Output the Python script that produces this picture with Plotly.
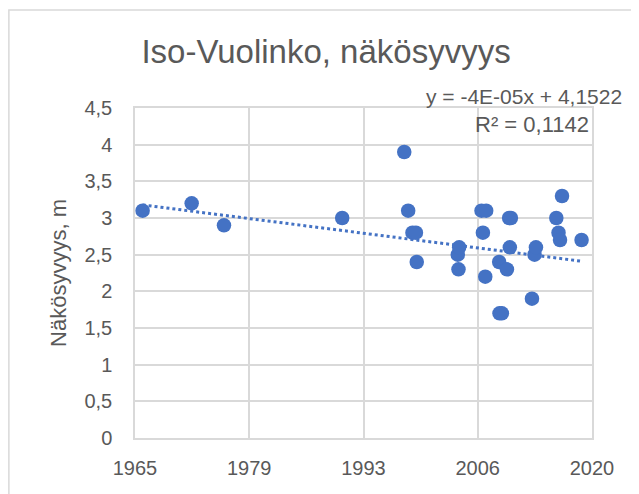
"""Scatter of Secchi depth at Iso-Vuolinko with a linear trendline."""

from __future__ import annotations

import pandas as pd
import plotly.graph_objects as go

dates = [
    "1966-08-15", "1972-07-01", "1976-05-15", "1990-07-15",
    "1997-12-20", "1998-06-10", "1998-12-15", "1999-05-15", "1999-06-20",
    "2004-05-20", "2004-06-20", "2004-07-20",
    "2007-03-25", "2007-05-25", "2007-09-05", "2007-10-15",
    "2009-05-05", "2009-05-20", "2009-09-01", "2010-04-10",
    "2010-07-15", "2010-08-15", "2010-10-01",
    "2013-04-10", "2013-08-01", "2013-10-01",
    "2016-03-10", "2016-06-15", "2016-08-20", "2016-11-15", "2019-03-20",
]
depth_m = [
    3.1, 3.2, 2.9, 3.0,
    3.9, 3.1, 2.8, 2.8, 2.4,
    2.5, 2.3, 2.6,
    3.1, 2.8, 2.2, 3.1,
    2.4, 1.7, 1.7, 2.3,
    3.0, 2.6, 3.0,
    1.9, 2.5, 2.6,
    3.0, 2.8, 2.7, 3.3, 2.7,
]

# Excel trendline (x = Excel date serial in days)
trend_slope = -4e-05
trend_intercept = 4.1522
trend_r2 = 0.1142

axis_start = "1965-09-16"  # Excel serial 24000
axis_step_days = 5000
axis_ticks = 5

BLUE = "#4472C4"
TEXT = "#595959"
GRID = "#D9D9D9"
FONT = "Liberation Sans, Arial, sans-serif"

x = pd.to_datetime(dates)
excel_epoch = pd.Timestamp("1899-12-30")


def excel_serial(ts: pd.Timestamp) -> float:
    return (ts - excel_epoch).days


# Excel draws the trendline across the data's x range
trend_x = [x.min(), x.max()]
trend_y = [trend_slope * excel_serial(t) + trend_intercept for t in trend_x]

tick_dates = [
    pd.Timestamp(axis_start) + pd.Timedelta(days=axis_step_days * i)
    for i in range(axis_ticks)
]

fig = go.Figure()
fig.add_trace(
    go.Scatter(
        x=trend_x,
        y=trend_y,
        mode="lines",
        line={"color": BLUE, "width": 3, "dash": "dot"},
        hoverinfo="skip",
    )
)
fig.add_trace(
    go.Scatter(
        x=x,
        y=depth_m,
        mode="markers",
        marker={"color": BLUE, "size": 14.5},
    )
)

intercept_str = f"{trend_intercept}".replace(".", ",")
eq_text = f"y = {trend_slope:.0E}x + {intercept_str}"
r2_text = f"R² = {trend_r2}".replace(".", ",")

fig.add_annotation(
    x=1.07, y=1.034, xref="paper", yref="paper", xanchor="right", yanchor="middle",
    text=eq_text, showarrow=False,
    font={"size": 21, "color": TEXT},
)
fig.add_annotation(
    x=0.998, y=0.951, xref="paper", yref="paper", xanchor="right", yanchor="middle",
    text=r2_text, showarrow=False,
    font={"size": 22, "color": TEXT},
)
# outer chart border
fig.add_shape(
    type="rect", xref="paper", yref="paper",
    x0=-0.276, x1=1.2, y0=-0.3, y1=1.297,
    line={"color": GRID, "width": 1.5},
)

fig.update_layout(
    width=631,
    height=486,
    margin={"l": 127, "r": 47, "t": 100, "b": 56},
    paper_bgcolor="white",
    plot_bgcolor="white",
    showlegend=False,
    separators=", ",
    font={"family": FONT, "color": TEXT, "size": 20},
    title={
        "text": "Iso-Vuolinko, näkösyvyys",
        "x": 0.504, "xanchor": "center", "y": 0.91, "yanchor": "middle",
        "font": {"size": 33, "color": TEXT},
    },
)
fig.update_xaxes(
    type="date",
    range=[tick_dates[0], tick_dates[-1]],
    tickvals=tick_dates,
    tickformat="%Y",
    showgrid=True, gridcolor=GRID, gridwidth=1.5,
    showline=True, linecolor=GRID, linewidth=1.5, mirror=True,
    zeroline=False, ticks="",
    ticklabelstandoff=11,
    tickfont={"size": 20, "color": TEXT},
)
fig.update_yaxes(
    range=[0, 4.5],
    dtick=0.5,
    title={"text": "Näkösyvyys, m", "font": {"size": 22, "color": TEXT}, "standoff": 12},
    showgrid=True, gridcolor=GRID, gridwidth=1.5,
    showline=True, linecolor=GRID, linewidth=1.5, mirror=True,
    zeroline=False, ticks="",
    ticklabelstandoff=17,
    tickfont={"size": 20, "color": TEXT},
)

fig.write_html("out.html")
